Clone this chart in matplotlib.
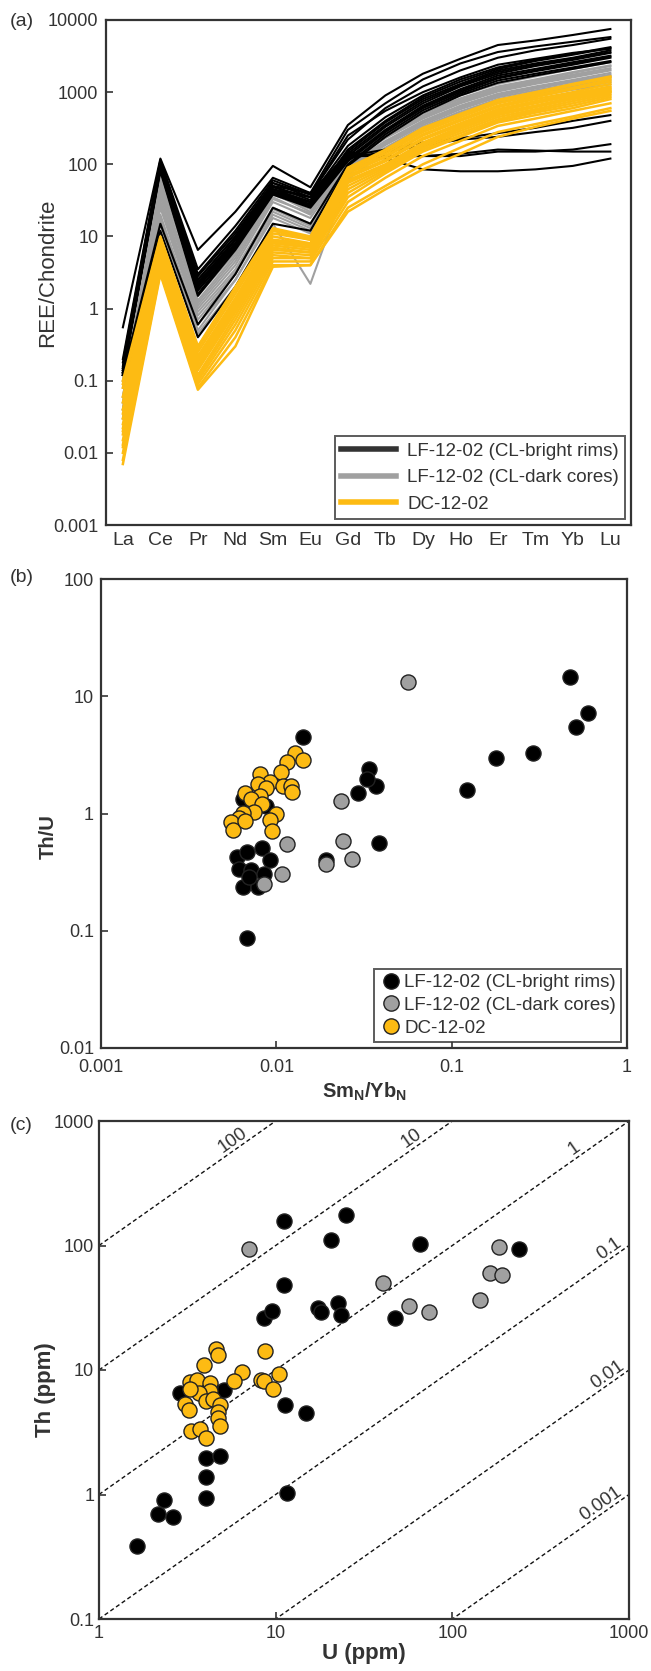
import numpy as np
import matplotlib
matplotlib.use("Agg")
import matplotlib.pyplot as plt
from matplotlib.lines import Line2D

plt.rcParams['font.family'] = ['Liberation Sans', 'DejaVu Sans']
plt.rcParams['mathtext.fontset'] = 'custom'
plt.rcParams['mathtext.bf'] = 'Liberation Sans:bold'
plt.rcParams['mathtext.rm'] = 'Liberation Sans'

BLACK = '#000000'
GRAY = '#a0a0a0'
YELLOW = '#fdbb13'
SPINE = '#333333'
TXT = '#333333'

# ---------------- (a) REE patterns ----------------
ree = ['La', 'Ce', 'Pr', 'Nd', 'Sm', 'Eu', 'Gd', 'Tb', 'Dy', 'Ho', 'Er', 'Tm', 'Yb', 'Lu']

rims_ree = [
    [0.55, 120, 6.5, 22, 95, 48, 350, 900, 1800, 2900, 4500, 5200, 6200, 7500],
    [0.20, 115, 3.5, 14, 65, 40, 300, 700, 1500, 2500, 3600, 4300, 5000, 5800],
    [0.18, 110, 3.0, 12, 60, 38, 220, 600, 1200, 2000, 3000, 3800, 4500, 5500],
    [0.13, 105, 2.5, 10, 55, 35, 180, 450, 900, 1500, 2200, 2800, 3400, 4200],
    [0.15, 100, 2.2, 9, 50, 32, 150, 380, 800, 1300, 2000, 2500, 3000, 3800],
    [0.12, 95, 2.0, 8, 45, 30, 130, 330, 700, 1200, 1800, 2300, 2800, 3500],
    [0.14, 90, 1.8, 7.5, 42, 28, 120, 300, 650, 1100, 1700, 2100, 2600, 3200],
    [0.12, 85, 1.6, 7, 40, 26, 115, 290, 620, 1050, 1600, 2000, 2500, 3100],
    [0.13, 80, 1.5, 6.5, 38, 25, 110, 280, 600, 1000, 1550, 1950, 2400, 3000],
    [0.12, 15, 0.6, 3, 25, 15, 100, 260, 560, 950, 1450, 1800, 2200, 2700],
    [0.12, 12, 0.4, 2, 15, 12, 95, 240, 520, 900, 1350, 1700, 2100, 2600],
    [0.13, 100, 2.0, 9, 45, 35, 150, 120, 85, 80, 80, 85, 95, 120],
    [0.14, 95, 2.5, 10, 50, 40, 140, 130, 130, 130, 150, 150, 160, 190],
    [0.13, 90, 2.2, 9, 45, 30, 130, 130, 130, 140, 160, 155, 150, 150],
    [0.14, 85, 2.0, 8, 40, 30, 120, 150, 180, 220, 240, 280, 320, 400],
    [0.13, 90, 2.3, 9, 48, 35, 130, 160, 200, 230, 270, 320, 400, 480],
    [0.16, 110, 2.8, 11, 55, 38, 250, 550, 1000, 1600, 2400, 2900, 3500, 4000],
    [0.15, 100, 2.0, 8, 42, 30, 160, 400, 850, 1400, 2100, 2700, 3300, 4100],
    [0.12, 95, 1.8, 7, 40, 27, 140, 350, 750, 1250, 1900, 2400, 2900, 3600],
]

cores_ree = [
    [0.15, 70, 2.2, 9, 50, 30, 140, 300, 580, 900, 1300, 1650, 2100, 2600],
    [0.10, 60, 1.8, 7, 45, 25, 125, 270, 520, 820, 1200, 1500, 1900, 2350],
    [0.08, 50, 1.5, 6, 40, 22, 115, 250, 470, 760, 1100, 1400, 1750, 2150],
    [0.06, 40, 1.2, 5, 35, 20, 105, 230, 430, 700, 1020, 1300, 1600, 2000],
    [0.05, 35, 1.0, 4, 30, 18, 98, 210, 400, 650, 950, 1200, 1480, 1850],
    [0.04, 30, 0.9, 3.5, 25, 15, 90, 195, 370, 610, 890, 1120, 1380, 1700],
    [0.04, 25, 0.7, 3, 22, 13, 85, 185, 350, 580, 850, 1060, 1300, 1600],
    [0.03, 20, 0.6, 2.5, 20, 12, 80, 170, 330, 540, 800, 1000, 1220, 1480],
    [0.05, 18, 0.5, 2.5, 18, 11, 72, 158, 310, 510, 760, 950, 1150, 1380],
    [0.03, 15, 0.45, 2, 15, 2.2, 62, 148, 295, 490, 720, 880, 1080, 1280],
    [0.06, 45, 1.3, 5.5, 38, 24, 120, 260, 500, 800, 1150, 1450, 1850, 2300],
    [0.04, 28, 0.8, 3.2, 24, 14, 92, 200, 380, 630, 920, 1160, 1420, 1750],
    [0.10, 55, 1.1, 4.5, 33, 21, 110, 240, 450, 730, 1060, 1350, 1680, 2050],
]

dc_ree = [
    [0.10, 10, 0.30, 2.0, 13, 10, 90, 150, 300, 480, 750, 950, 1250, 1600],
    [0.08, 9, 0.28, 1.8, 12, 9, 85, 140, 280, 450, 700, 900, 1150, 1500],
    [0.06, 8.5, 0.25, 1.6, 11, 9, 80, 130, 260, 420, 650, 850, 1100, 1400],
    [0.05, 8, 0.22, 1.4, 10, 8, 75, 125, 250, 400, 620, 800, 1000, 1300],
    [0.04, 7.5, 0.20, 1.3, 9, 8, 70, 115, 230, 370, 580, 750, 950, 1200],
    [0.03, 7, 0.18, 1.2, 8.5, 7, 65, 110, 220, 350, 550, 700, 900, 1100],
    [0.025, 6.5, 0.16, 1.1, 8, 7, 60, 100, 200, 330, 520, 650, 850, 1050],
    [0.02, 6, 0.15, 1.0, 7, 6, 55, 95, 190, 310, 480, 620, 800, 1000],
    [0.018, 5.5, 0.14, 0.9, 6.5, 6, 50, 90, 180, 290, 450, 580, 750, 950],
    [0.015, 5, 0.12, 0.8, 6, 5.5, 45, 85, 170, 270, 420, 550, 700, 900],
    [0.013, 4.5, 0.11, 0.7, 5.5, 5, 40, 80, 160, 250, 400, 520, 650, 850],
    [0.012, 4, 0.10, 0.6, 5, 5, 35, 75, 150, 240, 380, 480, 600, 800],
    [0.010, 3.5, 0.09, 0.5, 4.5, 4.5, 30, 65, 130, 210, 340, 430, 550, 700],
    [0.008, 3.2, 0.08, 0.4, 4, 4, 25, 50, 100, 170, 280, 360, 460, 600],
    [0.007, 3, 0.075, 0.3, 3.8, 4, 22, 45, 85, 140, 240, 330, 430, 550],
    [0.09, 9.5, 0.29, 1.9, 12.5, 9.5, 88, 160, 320, 500, 780, 1000, 1300, 1650],
    [0.035, 7.2, 0.19, 1.25, 8.8, 7.5, 68, 112, 225, 360, 560, 720, 920, 1150],
    [0.022, 6.2, 0.155, 1.05, 7.5, 6.5, 58, 98, 195, 320, 500, 640, 820, 1020],
]

# ---------------- (b) Th/U vs SmN/YbN ----------------
rims_smyb = [0.473, 0.60, 0.51, 0.29, 0.18, 0.123, 0.0336, 0.037, 0.0294, 0.0327,
             0.0385, 0.01426, 0.00646, 0.00873, 0.00682, 0.00596, 0.00682, 0.00826,
             0.00921, 0.00612, 0.00721, 0.00849, 0.00646, 0.00791, 0.00702, 0.0192]
rims_thu = [14.5, 7.2, 5.5, 3.25, 3.0, 1.6, 2.4, 1.73, 1.51, 1.97,
            0.557, 4.47, 1.34, 1.16, 0.0875, 0.427, 0.471, 0.503,
            0.399, 0.338, 0.327, 0.306, 0.234, 0.234, 0.286, 0.405]

cores_smyb = [0.0567, 0.0233, 0.01146, 0.0239, 0.0271, 0.0191, 0.01074, 0.00849]
cores_thu = [13.1, 1.28, 0.546, 0.583, 0.413, 0.373, 0.306, 0.251]

dc_smyb = [0.0128, 0.01426, 0.01146, 0.01057, 0.00804, 0.00921, 0.00782, 0.00873,
           0.01086, 0.0121, 0.0123, 0.00804, 0.00664, 0.00721, 0.00826, 0.00741,
           0.00646, 0.0100, 0.00921, 0.00612, 0.00548, 0.00564, 0.00947, 0.00664]
dc_thu = [3.25, 2.84, 2.75, 2.28, 2.18, 1.87, 1.78, 1.65,
          1.70, 1.72, 1.53, 1.41, 1.51, 1.34, 1.20, 1.03,
          1.01, 1.00, 0.887, 0.916, 0.842, 0.726, 0.703, 0.859]

# ---------------- (c) Th vs U ----------------
rims_u = [1.65, 2.34, 2.16, 2.64, 4.02, 4.02, 4.02, 4.86, 11.6, 14.8, 11.3, 2.86,
          5.13, 4.25, 8.59, 9.57, 11.1, 11.1, 25.1, 20.5, 17.4, 18.1, 22.5, 23.5,
          47.4, 65.5, 238]
rims_th = [0.385, 0.91, 0.70, 0.66, 0.94, 1.37, 1.96, 2.03, 1.03, 4.49, 5.2, 6.54,
           6.92, 7.5, 26, 30, 48.5, 158, 175, 111, 31.5, 29, 34.5, 27.9,
           26, 103, 93]

cores_u = [7.03, 40.7, 56.6, 73.4, 144, 163, 190, 183]
cores_th = [93, 50.3, 32.6, 29.4, 36.3, 59.6, 57.5, 96.5]

dc_u = [4.61, 4.74, 8.69, 3.92, 6.48, 10.4, 5.82, 8.23, 8.59, 9.68, 3.29, 3.61,
        4.25, 4.25, 3.67, 3.07, 3.24, 4.02, 4.44, 4.86, 4.69, 4.74, 4.86, 3.33,
        3.71, 4.02, 3.29]
dc_th = [14.8, 13.3, 14.1, 10.9, 9.66, 9.31, 8.09, 8.37, 8.2, 7.02, 7.98, 8.37,
         7.8, 6.77, 6.54, 5.35, 4.75, 5.67, 5.87, 5.21, 4.59, 4.12, 3.58, 3.22,
         3.34, 2.83, 7.02]

ratio_lines = [100, 10, 1, 0.1, 0.01, 0.001]
ratio_labels = ['100', '10', '1', '0.1', '0.01', '0.001']
ratio_label_u = [5.7, 59, 490, 770, 755, 690]

labels = ['LF-12-02 (CL-bright rims)', 'LF-12-02 (CL-dark cores)', 'DC-12-02']

W, H = 651, 1671
fig = plt.figure(figsize=(W / 100, H / 100), dpi=100)


def box(l, t, r, b):
    return [l / W, 1 - b / H, (r - l) / W, (b - t) / H]


def style(ax, pad):
    for s in ax.spines.values():
        s.set_color(SPINE)
        s.set_linewidth(1.6)
    ax.tick_params(which='major', direction='in', length=5, width=1.2,
                   color=SPINE, labelcolor=TXT, labelsize=13, pad=pad)
    ax.tick_params(which='minor', length=0)


def legend(ax, handles, **kw):
    leg = ax.legend(handles, labels, loc='lower right', fontsize=13.5, frameon=True,
                    fancybox=False, edgecolor=SPINE, **kw)
    leg.get_frame().set_linewidth(1.4)
    for t in leg.get_texts():
        t.set_color(TXT)
    return leg


# panel a
ax1 = fig.add_axes(box(106, 20, 631, 525))
x = np.arange(len(ree))
for row in cores_ree:
    ax1.plot(x, row, color=GRAY, lw=1.5)
for row in rims_ree:
    ax1.plot(x, row, color=BLACK, lw=1.5)
for row in dc_ree:
    ax1.plot(x, row, color=YELLOW, lw=1.8)
ax1.set_yscale('log')
ax1.set_ylim(0.001, 10000)
ax1.set_xlim(-0.45, 13.55)
ax1.set_xticks(x)
ax1.set_xticklabels(ree)
ax1.set_yticks([0.001, 0.01, 0.1, 1, 10, 100, 1000, 10000])
ax1.set_yticklabels(['0.001', '0.01', '0.1', '1', '10', '100', '1000', '10000'])
style(ax1, 5.5)
ax1.tick_params(axis='x', length=0, labelsize=14, pad=5)
ax1.set_ylabel('REE/Chondrite', fontsize=16, color=TXT)
ax1.yaxis.set_label_coords(-0.091, 0.5)
h1 = [Line2D([], [], color='#333333', lw=4),
      Line2D([], [], color=GRAY, lw=4),
      Line2D([], [], color=YELLOW, lw=4)]
legend(ax1, h1, handlelength=2.9, handletextpad=0.6, borderaxespad=0.3,
       labelspacing=0.5, borderpad=0.35)

# panel b
ax2 = fig.add_axes(box(101, 579, 627, 1048))
ms = 118
ax2.scatter(rims_smyb, rims_thu, s=ms, c=BLACK, edgecolors='#222222', linewidths=1, zorder=3)
ax2.scatter(cores_smyb, cores_thu, s=ms, c=GRAY, edgecolors='#222222', linewidths=1, zorder=3)
ax2.scatter(dc_smyb, dc_thu, s=ms, c=YELLOW, edgecolors='#222222', linewidths=1, zorder=3)
ax2.set_xscale('log')
ax2.set_yscale('log')
ax2.set_xlim(0.001, 1)
ax2.set_ylim(0.01, 100)
ax2.set_xticks([0.001, 0.01, 0.1, 1])
ax2.set_xticklabels(['0.001', '0.01', '0.1', '1'])
ax2.set_yticks([0.01, 0.1, 1, 10, 100])
ax2.set_yticklabels(['0.01', '0.1', '1', '10', '100'])
style(ax2, 5)
ax2.tick_params(axis='x', pad=8)
ax2.set_xlabel(r'$\mathbf{Sm_N/Yb_N}$', fontsize=14.5, color=TXT, labelpad=3)
ax2.set_ylabel('Th/U', fontsize=14.5, fontweight='bold', color=TXT)
ax2.yaxis.set_label_coords(-0.082, 0.45)
h2 = [Line2D([], [], ls='', marker='o', ms=11, mfc=c, mec='#222222', mew=1)
      for c in (BLACK, GRAY, YELLOW)]
legend(ax2, h2, handletextpad=0.1, borderaxespad=0.3, labelspacing=0.3,
       borderpad=0.3, handlelength=1.2)

# panel c
ax3 = fig.add_axes(box(99, 1121, 629, 1619))
uu = np.array([1, 1000])
for r in ratio_lines:
    ax3.plot(uu, r * uu, ls=(0, (3, 2)), color='#111111', lw=1.0, zorder=1)
ax3.set_xscale('log')
ax3.set_yscale('log')
ax3.set_xlim(1, 1000)
ax3.set_ylim(0.1, 1000)
ax3.scatter(rims_u, rims_th, s=ms, c=BLACK, edgecolors='#222222', linewidths=1, zorder=3)
ax3.scatter(cores_u, cores_th, s=ms, c=GRAY, edgecolors='#222222', linewidths=1, zorder=3)
ax3.scatter(dc_u, dc_th, s=ms, c=YELLOW, edgecolors='#222222', linewidths=1, zorder=3)
ax3.set_xticks([1, 10, 100, 1000])
ax3.set_xticklabels(['1', '10', '100', '1000'])
ax3.set_yticks([0.1, 1, 10, 100, 1000])
ax3.set_yticklabels(['0.1', '1', '10', '100', '1000'])
style(ax3, 3.5)
ax3.tick_params(axis='x', pad=4)
fig.canvas.draw()
p0 = ax3.transData.transform((1, 1))
p1 = ax3.transData.transform((10, 10))
ang = np.degrees(np.arctan2(p1[1] - p0[1], p1[0] - p0[0]))
for r, lab, ul in zip(ratio_lines, ratio_labels, ratio_label_u):
    ax3.text(ul, r * ul * 1.22, lab, rotation=ang, rotation_mode='anchor',
             ha='center', va='center', fontsize=13.5, color=TXT, zorder=2)
ax3.set_xlabel('U (ppm)', fontsize=16, fontweight='bold', color=TXT, labelpad=1)
ax3.set_ylabel('Th (ppm)', fontsize=16, fontweight='bold', color=TXT)
ax3.yaxis.set_label_coords(-0.081, 0.46)

fig.text(10 / W, 1 - 22 / H, '(a)', fontsize=14, color=TXT, va='center')
fig.text(10 / W, 1 - 577 / H, '(b)', fontsize=14, color=TXT, va='center')
fig.text(10 / W, 1 - 1125 / H, '(c)', fontsize=14, color=TXT, va='center')

fig.savefig('out.png', dpi=100, facecolor='white')
